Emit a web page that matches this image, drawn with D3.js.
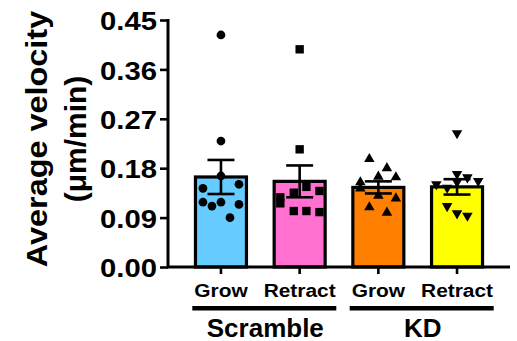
<!DOCTYPE html>
<html><head><meta charset="utf-8">
<script src="https://cdn.jsdelivr.net/npm/d3@7"></script>
<style>body{margin:0;background:#fff}svg{display:block}text{font-family:"Liberation Sans",Arial,sans-serif;font-weight:bold;fill:#000}</style>
</head><body>
<script>
const categories = ["Grow","Retract","Grow","Retract"];
const groups = ["Scramble","KD"];
const groupOf = [0,0,1,1];
const means = [0.164, 0.156, 0.145, 0.146];
const sems = [0.031, 0.029, 0.011, 0.014];
const colors = ["#66CCFF","#FF70D0","#FF8000","#FFFF00"];
const shapes = ["circle","square","triangleUp","triangleDown"];
const yTicks = [0, 0.09, 0.18, 0.27, 0.36, 0.45];
const ptsScrambleGrow = [0.4227,0.2295,0.1658,0.1433,0.1507,0.118,0.111,0.118,0.114,0.0898];
const jitScrambleGrow = [0,0,0,-2,2,-2,-1,0,2,1];
const ptsScrambleRetract = [0.3966,0.2144,0.146,0.1354,0.1385,0.127,0.116,0.102,0.102,0.100];
const jitScrambleRetract = [0,0,0.75,-0.65,2.2,-2.15,-2.15,-0.65,0.75,2.2];
const ptsKDGrow = [0.1968,0.180,0.1634,0.1646,0.1543,0.1433,0.130,0.125,0.1088,0.099];
const jitKDGrow = [-1,0.95,1.95,0,-2,-2,0,1.95,-1,0.95];
const ptsKDRetract = [0.2436,0.1694,0.1634,0.1567,0.155,0.1507,0.1445,0.111,0.0978,0.0935];
const jitKDRetract = [0,0,1.15,2.35,0,-2.3,-1.1,-1.1,0,1.15];
const points = [ptsScrambleGrow, ptsScrambleRetract, ptsKDGrow, ptsKDRetract];
const jitters = [jitScrambleGrow, jitScrambleRetract, jitKDGrow, jitKDRetract];

const W=517,H=341;
const svg=d3.select("body").append("svg").attr("width",W).attr("height",H);
svg.append("rect").attr("width",W).attr("height",H).attr("fill","#fff");
const x0=168,x1=510,yBase=267,yTop=20;
const y=d3.scaleLinear().domain([0,0.45]).range([yBase,yTop]);
const x=d3.scaleBand().domain(d3.range(categories.length)).range([x0,x1]).paddingInner(0.352).paddingOuter(0.349);
const cx=i=>x(i)+x.bandwidth()/2;
const J=9;

// bars
svg.selectAll("rect.bar").data(means).join("rect").attr("class","bar")
  .attr("x",(d,i)=>x(i)).attr("width",x.bandwidth())
  .attr("y",d=>y(d)).attr("height",d=>yBase-y(d))
  .attr("fill",(d,i)=>colors[i]).attr("stroke","#000").attr("stroke-width",3.2);

// points
const sym={circle:d3.symbolCircle,square:d3.symbolSquare,triangleUp:d3.symbolTriangle,triangleDown:d3.symbolTriangle};
const sizes={circle:60,square:70,triangleUp:48,triangleDown:48};
points.forEach((arr,i)=>{
  const g=svg.append("g");
  g.selectAll("path").data(arr).join("path")
    .attr("d",d3.symbol().type(sym[shapes[i]]).size(sizes[shapes[i]]))
    .attr("transform",(d,k)=>`translate(${cx(i)+jitters[i][k]*J},${y(d)})`+(shapes[i]==="triangleDown"?" rotate(180)":""))
    .attr("fill","#000");
});

// error bars
means.forEach((m,i)=>{
  const g=svg.append("g").attr("stroke","#000").attr("stroke-width",2.6);
  g.append("line").attr("x1",cx(i)).attr("x2",cx(i)).attr("y1",y(m+sems[i])).attr("y2",y(m-sems[i]));
  [m+sems[i],m-sems[i]].forEach(v=>g.append("line").attr("x1",cx(i)-13.5).attr("x2",cx(i)+13.5).attr("y1",y(v)).attr("y2",y(v)));
});

// y axis
const ya=svg.append("g").attr("transform",`translate(${x0},0)`)
  .call(d3.axisLeft(y).tickValues(yTicks).tickSize(8).tickFormat(d3.format(".2f")));
ya.select(".domain").attr("stroke","#000").attr("stroke-width",3).attr("d",`M0,${yTop-1}V${yBase}`);
ya.selectAll(".tick line").attr("stroke","#000").attr("stroke-width",2.6);
ya.selectAll(".tick text").attr("x",null).attr("dy",null).attr("font-size",25)
  .attr("dominant-baseline","central")
  .attr("transform","translate(-11,1) scale(1.17,1)");

// x axis
const xa=svg.append("g").attr("transform",`translate(0,${yBase})`);
xa.append("line").attr("x1",x0-1).attr("x2",x1).attr("stroke","#000").attr("stroke-width",3);
xa.selectAll("line.t").data(categories).join("line").attr("class","t")
  .attr("x1",(d,i)=>cx(i)).attr("x2",(d,i)=>cx(i)).attr("y1",0).attr("y2",7)
  .attr("stroke","#000").attr("stroke-width",2.6);
svg.selectAll("text.cat").data(categories).join("text").attr("class","cat")
  .attr("transform",(d,i)=>`translate(${cx(i)},296.5) scale(1.1,1)`)
  .attr("text-anchor","middle").attr("font-size",19).text(d=>d);

// group lines
groups.forEach((gname,gi)=>{
  const idx=d3.range(categories.length).filter(i=>groupOf[i]===gi);
  const c=(cx(idx[0])+cx(idx[idx.length-1]))/2+4;
  svg.append("line").attr("x1",c-72).attr("x2",c+72).attr("y1",308.3).attr("y2",308.3)
    .attr("stroke","#000").attr("stroke-width",4.5);
  svg.append("text").attr("x",c+1).attr("y",336.5).attr("text-anchor","middle").attr("font-size",26).text(gname);
});

// y title
const t=svg.append("g").attr("transform","translate(0,139) rotate(-90)");
t.append("text").attr("text-anchor","middle").attr("y",47.5).attr("font-size",30).attr("transform","scale(1.08,1)").text("Average velocity");
t.append("text").attr("text-anchor","middle").attr("y",86).attr("font-size",30).text("(μm/min)");
</script>
</body></html>
